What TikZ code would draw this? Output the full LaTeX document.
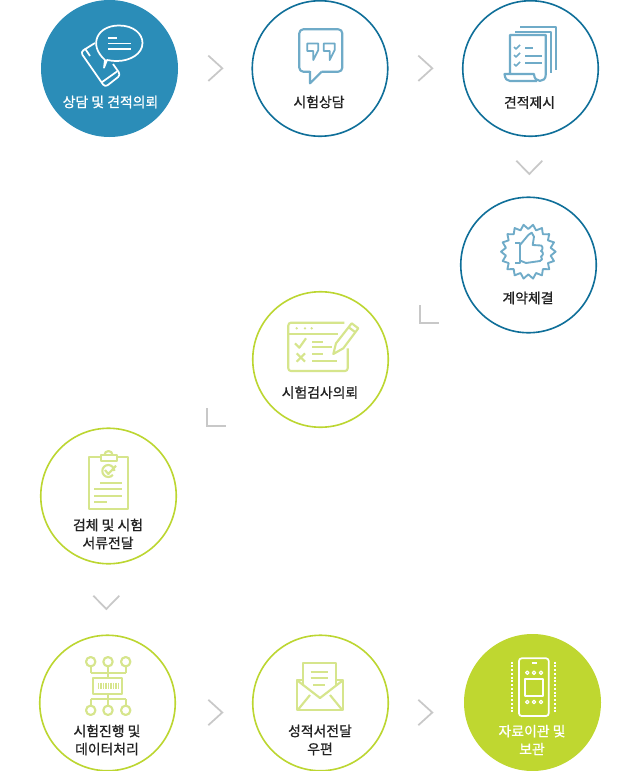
\documentclass[tikz,border=0pt]{standalone}
\usepackage{fontspec}
\setmainfont{Noto Sans CJK KR}[FakeBold=0.9]
\usetikzlibrary{calc}
\definecolor{bluefill}{HTML}{2B8DB8}
\definecolor{blueline}{HTML}{0F6F99}
\definecolor{blueicon}{HTML}{6FABC8}
\definecolor{greenfill}{HTML}{BFD730}
\definecolor{greenline}{HTML}{BCD631}
\definecolor{greenicon}{HTML}{D6E58C}
\definecolor{chevrongray}{HTML}{C8C8C8}
\definecolor{labelgray}{HTML}{222222}
\tikzset{
  stepcircle/.style={circle,inner sep=0pt,minimum size=137*0.75pt},
  blueopen/.style={stepcircle,minimum size=135.5*0.75pt,line width=1.2pt,draw=blueline,fill=white},
  greenopen/.style={stepcircle,minimum size=135.5*0.75pt,line width=1.2pt,draw=greenline,fill=white},
  steplabel/.style={inner sep=0pt,align=center,text=labelgray,font=\fontsize{10.4pt}{13.5pt}\selectfont},
  whitelabel/.style={steplabel,text=white},
  chevron/.style={draw=chevrongray,line width=1.3pt},
  blueglyph/.style={draw=blueicon,line width=1.6pt,line join=round},
  greenglyph/.style={draw=greenicon,line width=1.6pt,line join=round},
  whiteglyph/.style={draw=white,line width=1.3pt,line join=round},
}
\begin{document}
\begin{tikzpicture}[x=0.75pt,y=-0.75pt]
  \useasboundingbox (0,0) rectangle (640,771);

  % circles
  \node[stepcircle,fill=bluefill] (sangdam) at (109.5,68.5) {};
  \node[blueopen] (consult) at (320,68.5) {};
  \node[blueopen] (quote) at (530.5,68.5) {};
  \node[blueopen] (contract) at (528.5,265) {};
  \node[greenopen] (request) at (320.5,359.5) {};
  \node[greenopen] (sample) at (108.5,496) {};
  \node[greenopen] (testing) at (107.5,703) {};
  \node[greenopen] (report) at (320.5,703) {};
  \node[stepcircle,fill=greenfill] (archive) at (532.5,702.5) {};

  % labels
  \node[whitelabel] (sangdam_label) at (110.5,102) {상담 및 견적의뢰};
  \node[steplabel] (consult_label) at (319,102) {시험상담};
  \node[steplabel] (quote_label) at (529.5,102.5) {견적제시};
  \node[steplabel] (contract_label) at (528,298) {계약체결};
  \node[steplabel] (request_label) at (320,392.5) {시험검사의뢰};
  \node[steplabel] (sample_label) at (108,534) {검체 및 시험\\서류전달};
  \node[steplabel] (testing_label) at (107,740) {시험진행 및\\데이터처리};
  \node[steplabel] (report_label) at (320,740) {성적서전달\\우편};
  \node[whitelabel] (archive_label) at (532,740) {자료이관 및\\보관};

  % chevrons
  \foreach \xtip/\ytip in {222.3/68.3, 432.3/68.3, 222.3/712.5, 432.3/712.5} {
    \draw[chevron] (\xtip-14,\ytip-12.7) -- (\xtip,\ytip) -- (\xtip-14,\ytip+12.7);
  }
  \foreach \xtip/\ytip in {529.3/174, 106.3/609} {
    \draw[chevron] (\xtip-13,\ytip-13.3) -- (\xtip,\ytip) -- (\xtip+13,\ytip-13.3);
  }
  \foreach \xcorner/\ycorner in {420.3/323, 207.3/426} {
    \draw[chevron] (\xcorner,\ycorner-18) -- (\xcorner,\ycorner) -- (\xcorner+18.5,\ycorner);
  }

  % phone and bubble
  \draw[whiteglyph,rounded corners=2.5pt] (95,43) -- (80.5,52) -- (105,87.3) -- (120.7,75) -- (113,64);
  \draw[whiteglyph] (85,48.5) -- (90,56);
  \draw[whiteglyph] (101.5,82.5) -- (117,71.5);
  \draw[whiteglyph,fill=bluefill] (105,60) .. controls (88,45) and (97,25.5) .. (119,25.5) .. controls (134,25.5) and (142.5,34) .. (142.5,43) .. controls (142.5,54) and (130,61) .. (117,61) .. controls (113,61) and (110,60.5) .. (107,60) -- (104,67.7) -- cycle;
  \draw[whiteglyph] (108,38) -- (117,38);
  \draw[whiteglyph] (108,43.5) -- (131,43.5);
  \draw[whiteglyph] (108,49.3) -- (131,49.3);

  % speech bubble
  \draw[blueglyph,rounded corners=3pt] (310,71.7) -- (299.3,71.7) -- (299.3,29.3) -- (342.3,29.3) -- (342.3,71.7) -- (321.7,71.7);
  \draw[blueglyph] (310,71) -- (310,83.3) -- (321.7,71.7);
  \foreach \xquote in {307.3,323.7} {
    \draw[blueglyph,line width=1.4pt] (\xquote,43.5) -- (\xquote+11,43.5) -- (\xquote+11,50) -- (\xquote+6,60) -- (\xquote+6,51) -- (\xquote,51) -- cycle;
  }

  % documents
  \draw[blueglyph] (520,27.3) -- (556,27.3) -- (556,70);
  \draw[blueglyph] (515,31.7) -- (551,31.7) -- (551,73);
  \draw[blueglyph] (510,74) -- (510,35) -- (545.7,35) -- (545.7,75) .. controls (545.7,83) and (534,83) .. (534,74) -- (504.5,74) .. controls (505,79) and (507,81) .. (510,81) -- (537,81);
  \foreach \ycheck in {48,56,65} {
    \draw[blueglyph,line width=1.2pt] (514,\ycheck-1) -- (516,\ycheck+1) -- (520,\ycheck-3);
  }
  \draw[blueglyph] (525,48) -- (533,48);
  \draw[blueglyph] (525,56) -- (541.7,56);
  \draw[blueglyph] (525,63) -- (541.7,63);

  % badge and thumb
  \draw[blueglyph,line width=1.4pt] plot[samples=37,domain=0:360,variable=\a] ({528.3+(25+2.3*cos(18*\a))*cos(\a)},{251.7+(25+2.3*cos(18*\a))*sin(\a)}) -- cycle;
  \draw[blueglyph,line width=1.4pt] (515,243) -- (520,243) -- (520,263) -- (515,263);
  \draw[blueglyph,line width=1.4pt] (520,245) -- (528.3,235) -- (531.7,232.7) -- (534,236.7) -- (532.7,245) -- (541,245.5) .. controls (543,246) and (543,250) .. (541,251) .. controls (544,252) and (543,256) .. (541,256.5) .. controls (543,258) and (542,261) .. (540,261) -- (526,263) -- (520,260.5);

  % form and pencil
  \draw[greenglyph,rounded corners=2pt] (344.3,322.7) -- (288.3,322.7) -- (288.3,371) -- (347.7,371) -- (347.7,348.3);
  \draw[greenglyph] (288.3,334) -- (338,334);
  \foreach \xdot in {296.7,305,311.7} {
    \fill[greenicon] (\xdot,328.3) circle (1.3);
  }
  \draw[greenglyph] (295,343.3) -- (299.3,347.7) -- (306,338.3);
  \draw[greenglyph] (296.7,353.3) -- (305,361.7);
  \draw[greenglyph] (305,353.3) -- (296.7,361.7);
  \draw[greenglyph] (312.3,341.7) -- (323.3,341.7);
  \draw[greenglyph] (312.3,347.3) -- (331.7,347.3);
  \draw[greenglyph] (312.3,354.3) -- (323.3,354.3);
  \draw[greenglyph] (312.3,360.7) -- (337.3,360.7);
  \draw[greenglyph] (333.3,354) -- (336,343.3) -- (351.7,323.3) -- (358.3,328.3) -- (343.3,348.3) -- cycle;
  \draw[greenglyph] (348.3,327) -- (355,332);

  % clipboard
  \draw[greenglyph] (101,457.3) -- (89,457.3) -- (89,509) -- (128.3,509) -- (128.3,457.3) -- (116.7,457.3);
  \draw[greenglyph] (101,455) rectangle (116.7,460.7);
  \draw[greenglyph] (104.5,455) arc (180:360:4);
  \draw[greenglyph] (114.3,471) arc (0:-320:6);
  \draw[greenglyph] (105,470) -- (108.3,474) -- (116,465.7);
  \draw[greenglyph] (100,483.3) -- (122.3,483.3);
  \draw[greenglyph] (94.3,489.3) -- (122.3,489.3);
  \draw[greenglyph] (94.3,495.7) -- (122.3,495.7);
  \draw[greenglyph] (94.3,502) -- (106.7,502);

  % chip
  \foreach \xpin in {90.7,108,125.7} {
    \draw[greenglyph] (\xpin,661.7) circle (4.7);
    \draw[greenglyph] (\xpin,666.4) -- (\xpin,672.7);
    \draw[greenglyph] (\xpin,699) -- (\xpin,705.6);
    \draw[greenglyph] (\xpin,710.3) circle (4.7);
  }
  \draw[greenglyph] (90.7,672.7) -- (125.7,672.7);
  \draw[greenglyph] (90.7,699) -- (125.7,699);
  \draw[greenglyph] (108,672.7) -- (108,677.7);
  \draw[greenglyph] (108,694) -- (108,699);
  \draw[greenglyph] (93.3,677.7) rectangle (122.3,694);
  \foreach \xtick in {98.5,101,...,118.5} {
    \draw[greenicon,line width=0.8pt] (\xtick,682.5) -- (\xtick,689);
  }

  % envelope
  \draw[greenglyph] (303.3,680) -- (296.7,680) -- (296.7,710) -- (343.3,710) -- (343.3,680) -- (336,680);
  \draw[greenglyph] (296.7,680) -- (320,698) -- (343.3,680);
  \draw[greenglyph] (303.3,686) -- (303.3,663.3) -- (336,663.3) -- (336,686);
  \draw[greenglyph] (310.7,671.7) -- (328.3,671.7);
  \draw[greenglyph] (310.7,678.3) -- (328.3,678.3);
  \draw[greenglyph] (313,685) -- (325,685);
  \draw[greenglyph] (298.3,709.3) -- (310,695);
  \draw[greenglyph] (341.7,709.3) -- (330,695);

  % tablet
  \draw[whiteglyph,rounded corners=2pt] (519,658.3) rectangle (548.7,716);
  \draw[whiteglyph] (531.7,663) -- (536.7,663);
  \draw[whiteglyph] (525.3,679) rectangle (542.7,696);
  \foreach \xdot in {527.3,534,541} {
    \draw[whiteglyph,line width=0.9pt] (\xdot,672.7) circle (1.7);
    \draw[whiteglyph,line width=0.9pt] (\xdot,702) circle (1.7);
  }
  \foreach \xside in {512,555.3} {
    \draw[draw=white,line width=1.5pt,dash pattern=on 1.5pt off 1.3pt] (\xside,661.7) -- (\xside,713);
  }
\end{tikzpicture}
\end{document}
